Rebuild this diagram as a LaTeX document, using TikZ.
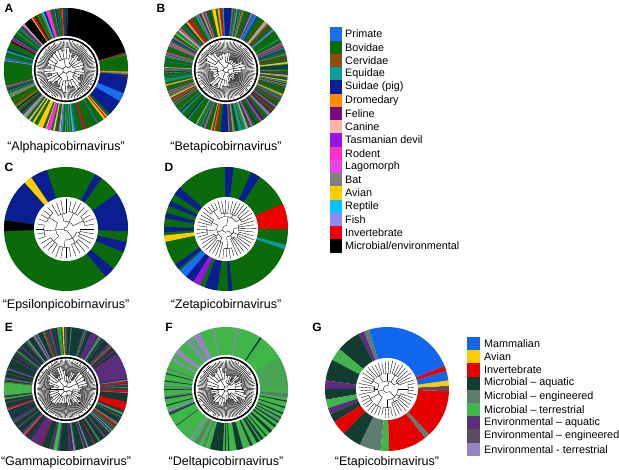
\documentclass[tikz,border=0pt]{standalone}
\usepackage{fontspec}
\setmainfont{Liberation Sans}
\usetikzlibrary{positioning}

\definecolor{primate}{HTML}{1A6FEF}
\definecolor{bovidae}{HTML}{0B6B0B}
\definecolor{cervidae}{HTML}{8E4B0E}
\definecolor{equidae}{HTML}{0E9C9A}
\definecolor{suidae}{HTML}{0A1E92}
\definecolor{dromedary}{HTML}{FF8A00}
\definecolor{feline}{HTML}{7B0C7E}
\definecolor{canine}{HTML}{FFB5A5}
\definecolor{tasdevil}{HTML}{9A14E6}
\definecolor{rodent}{HTML}{FF2FC8}
\definecolor{lagomorph}{HTML}{E545E8}
\definecolor{bat}{HTML}{7F7F7F}
\definecolor{avian}{HTML}{FFCC00}
\definecolor{reptile}{HTML}{0BC4FF}
\definecolor{fish}{HTML}{8C8CFF}
\definecolor{invert}{HTML}{EE0000}
\definecolor{microbial}{HTML}{000000}

\definecolor{mammal}{HTML}{1166EE}
\definecolor{aviantwo}{HTML}{FFCC00}
\definecolor{inverttwo}{HTML}{E60000}
\definecolor{micaq}{HTML}{123B32}
\definecolor{miceng}{HTML}{5E7D6E}
\definecolor{micter}{HTML}{41B549}
\definecolor{envaq}{HTML}{5B2D7C}
\definecolor{enveng}{HTML}{5C4D63}
\definecolor{envter}{HTML}{9583C4}

\pgfmathdeclarerandomlist{hostsA}{{bovidae}{bovidae}{bovidae}{suidae}{suidae}{primate}{canine}{avian}{rodent}{invert}{equidae}{feline}{bat}{reptile}{fish}{microbial}{cervidae}{dromedary}{tasdevil}}
\pgfmathdeclarerandomlist{hostsB}{{bovidae}{bovidae}{suidae}{primate}{canine}{avian}{rodent}{feline}{fish}{equidae}{bat}{lagomorph}{invert}}
\pgfmathdeclarerandomlist{envE}{{envaq}{envaq}{micter}{miceng}{enveng}{envter}{inverttwo}{micaq}}
\pgfmathdeclarerandomlist{envF}{{micaq}{miceng}{envter}}

\newcommand\stripes[4]{%
  \pgfmathsetseed{#3}%
  \foreach \nst in {1,...,#1}{%
    \pgfmathsetmacro\sa{360*rnd}%
    \pgfmathsetmacro\sw{0.3+1.6*rnd}%
    \pgfmathrandomitem{\clr}{#2}%
    \fill[\clr,opacity=#4] (0,0) -- (\sa:62) arc[start angle=\sa, delta angle=\sw, radius=62] -- cycle;
  }}
\newcommand\blocks[1]{%
  \foreach \ba/\bb/\bc in {#1}
    \fill[\bc] (0,0) -- (\ba:62) arc[start angle=\ba, end angle=\bb, radius=62] -- cycle;}
\newcommand\densehub{%
  \fill[white] (0,0) circle[radius=34];
  \draw[line width=1.6pt] (0,0) circle[radius=31.3];}
\newcommand\radtree[6]{%
  \pgfmathsetseed{#4}%
  \pgfmathsetmacro\dang{360/(#1*#2*#3)}%
  \pgfmathsetmacro\rootr{2+2*rnd}%
  \draw ({#6+0.5*#1*#2*\dang}:\rootr) arc[start angle={#6+0.5*#1*#2*\dang}, end angle={#6+(#3-0.5)*#1*#2*\dang}, radius=\rootr];
  \foreach \nsup in {1,...,#3}{%
    \pgfmathsetmacro\rs{\rootr+3+7*rnd}%
    \pgfmathsetmacro\sbase{#6+(\nsup-1)*#1*#2*\dang}%
    \draw ({\sbase+0.5*#1*#2*\dang}:\rootr) -- ({\sbase+0.5*#1*#2*\dang}:\rs);
    \draw ({\sbase+0.5*#1*\dang}:\rs) arc[start angle={\sbase+0.5*#1*\dang}, end angle={\sbase+(#2-0.5)*#1*\dang}, radius=\rs];
    \foreach \ncl in {1,...,#2}{%
      \pgfmathsetmacro\rc{\rs+3+9*rnd}%
      \pgfmathsetmacro\cbase{\sbase+(\ncl-1)*#1*\dang}%
      \draw ({\cbase+0.5*#1*\dang}:\rs) -- ({\cbase+0.5*#1*\dang}:\rc);
      \draw ({\cbase+0.5*\dang}:\rc) arc[start angle={\cbase+0.5*\dang}, end angle={\cbase+(#1-0.5)*\dang}, radius=\rc];
      \foreach \nlf in {1,...,#1}{%
        \pgfmathsetmacro\tip{#5-3*rnd}%
        \draw ({\cbase+(\nlf-0.5)*\dang}:\rc) -- ({\cbase+(\nlf-0.5)*\dang}:\tip);
      }%
    }%
  }}

\begin{document}
\begin{tikzpicture}[x=1pt,y=-1pt,
  panelid/.style={font=\fontsize{12}{14}\selectfont\bfseries},
  virusname/.style={font=\fontsize{12.5}{15}\selectfont},
  legtext/.style={anchor=west,inner sep=0pt,font=\fontsize{10.8}{13}\selectfont},
  densetree/.style={line width=0.4pt},
  sparsetree/.style={line width=0.35pt}]
\useasboundingbox (0,0) rectangle (619,470);

\node[panelid] (idA) at (9,8) {A};
\begin{scope}[shift={(66,70)},y=1pt]
\fill[bovidae] (0,0) circle[radius=62];
\stripes{200}{hostsA}{11}{1}
\blocks{17/88/microbial, -45/-5/suidae, -30/-22/primate, 105/109/rodent, 124/132/microbial, -117/-112/avian, -108/-104/rodent, 172/195/bovidae, 0/14/bovidae}
\densehub
\begin{scope}[densetree]\radtree{4}{5}{6}{21}{30}{10}\end{scope}
\end{scope}
\node[virusname] (nameA) at (66,147) {“Alphapicobirnavirus”};

\node[panelid] (idB) at (161,8) {B};
\begin{scope}[shift={(226,70)},y=1pt]
\fill[bovidae] (0,0) circle[radius=62];
\stripes{220}{hostsB}{12}{0.8}
\blocks{85/92/suidae, -95/-88/suidae, 60/63/primate, 100/103/avian}
\densehub
\begin{scope}[densetree]\radtree{4}{5}{6}{22}{30}{40}\end{scope}
\end{scope}
\node[virusname] (nameB) at (226,147) {“Betapicobirnavirus”};

\node[panelid] (idC) at (9,167) {C};
\begin{scope}[shift={(66,229)},y=1pt]
\fill[bovidae] (0,0) circle[radius=62];
\blocks{108/124/suidae, 124/132/avian, 132/172/suidae, 172/182/microbial, -2/35/suidae, 55/62/suidae, -22/-12/suidae, -50/-40/suidae}
\fill[white] (0,0) circle[radius=32];
\begin{scope}[sparsetree]\radtree{4}{3}{3}{23}{30.5}{5}\end{scope}
\end{scope}
\node[virusname] (nameC) at (66,305) {“Epsilonpicobirnavirus”};

\node[panelid] (idD) at (169,167) {D};
\begin{scope}[shift={(226,229)},y=1pt]
\fill[bovidae] (0,0) circle[radius=62];
\blocks{83/91/suidae, 57/66/suidae, 0/24/invert, -19/-15/equidae, -110/-98/suidae, -88/-84/suidae, -122/-115/tasdevil, -130/-122/suidae, -138/-130/primate, -145/-140/suidae, 138/146/suidae, 153/158/suidae, 165/170/suidae, 178/183/suidae, 186/192/avian}
\fill[white] (0,0) circle[radius=32];
\begin{scope}[sparsetree]\radtree{4}{4}{3}{24}{30.5}{20}\end{scope}
\end{scope}
\node[virusname] (nameD) at (226,305) {“Zetapicobirnavirus”};

\node[panelid] (idE) at (9,327) {E};
\begin{scope}[shift={(66,389)},y=1pt]
\fill[micaq] (0,0) circle[radius=62];
\stripes{170}{envE}{13}{0.85}
\blocks{10/35/envaq, -3/-1/inverttwo, -20/-12/inverttwo, 174/186/micter, 92/93.5/aviantwo, -125/-115/envaq, -102/-98/micter, 60/66/envaq}
\densehub
\begin{scope}[densetree]\radtree{4}{5}{7}{25}{30}{0}\end{scope}
\end{scope}
\node[virusname] (nameE) at (66,462) {“Gammapicobirnavirus”};

\node[panelid] (idF) at (169,327) {F};
\begin{scope}[shift={(226,389)},y=1pt]
\fill[micter] (0,0) circle[radius=62];
\fill[miceng,opacity=0.3] (0,0) -- (0:62) arc[start angle=0, end angle=30, radius=62] -- cycle;
\stripes{18}{envF}{14}{0.9}
\blocks{-105/-93/micaq, -12/-10.8/micaq, -18/-16.8/micaq, -24/-22.5/micaq, -28/-27/micaq, -33/-31.5/micaq, -38/-36/micaq, -45/-42/micaq, -50/-48.8/micaq, -55/-53/micaq, -60/-57/micaq, -66/-64.5/micaq, -80/-74/micaq, -88/-86.8/micaq, 165/166/micaq, 172/173/micaq, 180/181/micaq, 188/189.5/micaq, 195/196/micaq, 55/56.5/micaq, 115/122/envter, 128/130/envter, 140/145/envter, 150/152/envter, 200/202/envter, -8/-4/miceng, -120/-116/miceng, -112/-110/miceng}
\densehub
\begin{scope}[densetree]\radtree{4}{5}{6}{26}{30}{30}\end{scope}
\end{scope}
\node[virusname] (nameF) at (226,462) {“Deltapicobirnavirus”};

\node[panelid] (idG) at (317,327) {G};
\begin{scope}[shift={(387,389)},y=1pt]
\blocks{-2/3/enveng, 3/8/aviantwo, 8/17/mammal, 17/22/inverttwo, 22/107/mammal, 107/112/miceng, 112/117/envaq, 117/140/micaq, 140/152/micter, 152/172/micaq, 172/180/envaq, 180/190/micaq, 190/198/micter, 198/204/envaq, 204/212/micaq, 212/226/inverttwo, 226/244/micaq, 244/264/miceng, 264/272/micter, 272/308/inverttwo, 308/313/miceng, 313/358/inverttwo}
\fill[white] (0,0) circle[radius=31];
\begin{scope}[sparsetree]\radtree{4}{4}{3}{27}{29.5}{15}\end{scope}
\end{scope}
\node[virusname] (nameG) at (387,462) {“Etapicobirnavirus”};

\foreach \lbl/\clr [count=\i] in {Primate/primate, Bovidae/bovidae, Cervidae/cervidae, Equidae/equidae, Suidae (pig)/suidae, Dromedary/dromedary, Feline/feline, Canine/canine, Tasmanian devil/tasdevil, Rodent/rodent, Lagomorph/lagomorph, Bat/bat, Avian/avian, Reptile/reptile, Fish/fish, Invertebrate/invert, {Microbial/environmental}/microbial}{
  \fill[\clr] (330,{27.5+(\i-1)*13.25}) rectangle (342,{27.5+\i*13.25});
  \node[legtext] (host\i) at (345,{27.5+(\i-0.5)*13.25}) {\lbl};
}
\foreach \lbl/\clr [count=\i] in {Mammalian/mammal, Avian/aviantwo, Invertebrate/inverttwo, Microbial -- aquatic/micaq, Microbial -- engineered/miceng, Microbial -- terrestrial/micter, Environmental -- aquatic/envaq, Environmental -- engineered/enveng, Environmental - terrestrial/envter}{
  \fill[\clr] (467,{337+(\i-1)*13.2}) rectangle (480,{337+\i*13.2});
  \node[legtext] (source\i) at (484,{337+(\i-0.5)*13.2}) {\lbl};
}
\end{tikzpicture}
\end{document}
